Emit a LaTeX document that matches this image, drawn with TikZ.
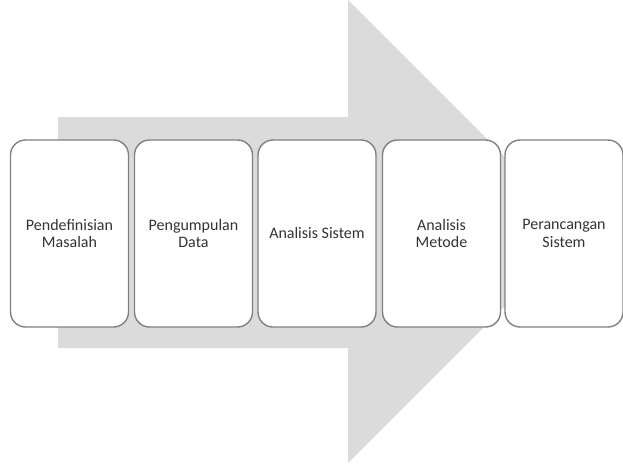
\documentclass[tikz,border=0pt]{standalone}
\usepackage{fontspec}
\setmainfont{Carlito}
\begin{document}
\begin{tikzpicture}[x=1pt,y=-1pt,
  stepbox/.style={draw=black!50, line width=1.4pt, fill=white, rounded corners=15pt,
    minimum width=118pt, minimum height=187pt, align=center, inner sep=2pt,
    font=\fontsize{16}{17.5}\selectfont, text=black!80},
  arrowshape/.style={fill=black!14, draw=none}]
\useasboundingbox (0,0) rectangle (623,463);
\fill[arrowshape] (58,117) -- (348,117) -- (348,0) -- (579.5,231.5) -- (348,463) -- (348,348) -- (58,348) -- cycle;
\node[stepbox] (s1) at (69.5,233.5) {Pendefinisian\\Masalah};
\node[stepbox] (s2) at (193.5,233.5) {Pengumpulan\\Data};
\node[stepbox] (s3) at (317,233.5) {Analisis Sistem};
\node[stepbox] (s4) at (441.5,233.5) {Analisis\\Metode};
\node[stepbox] (s5) at (564,233.5) {Perancangan\\Sistem};
\end{tikzpicture}
\end{document}
